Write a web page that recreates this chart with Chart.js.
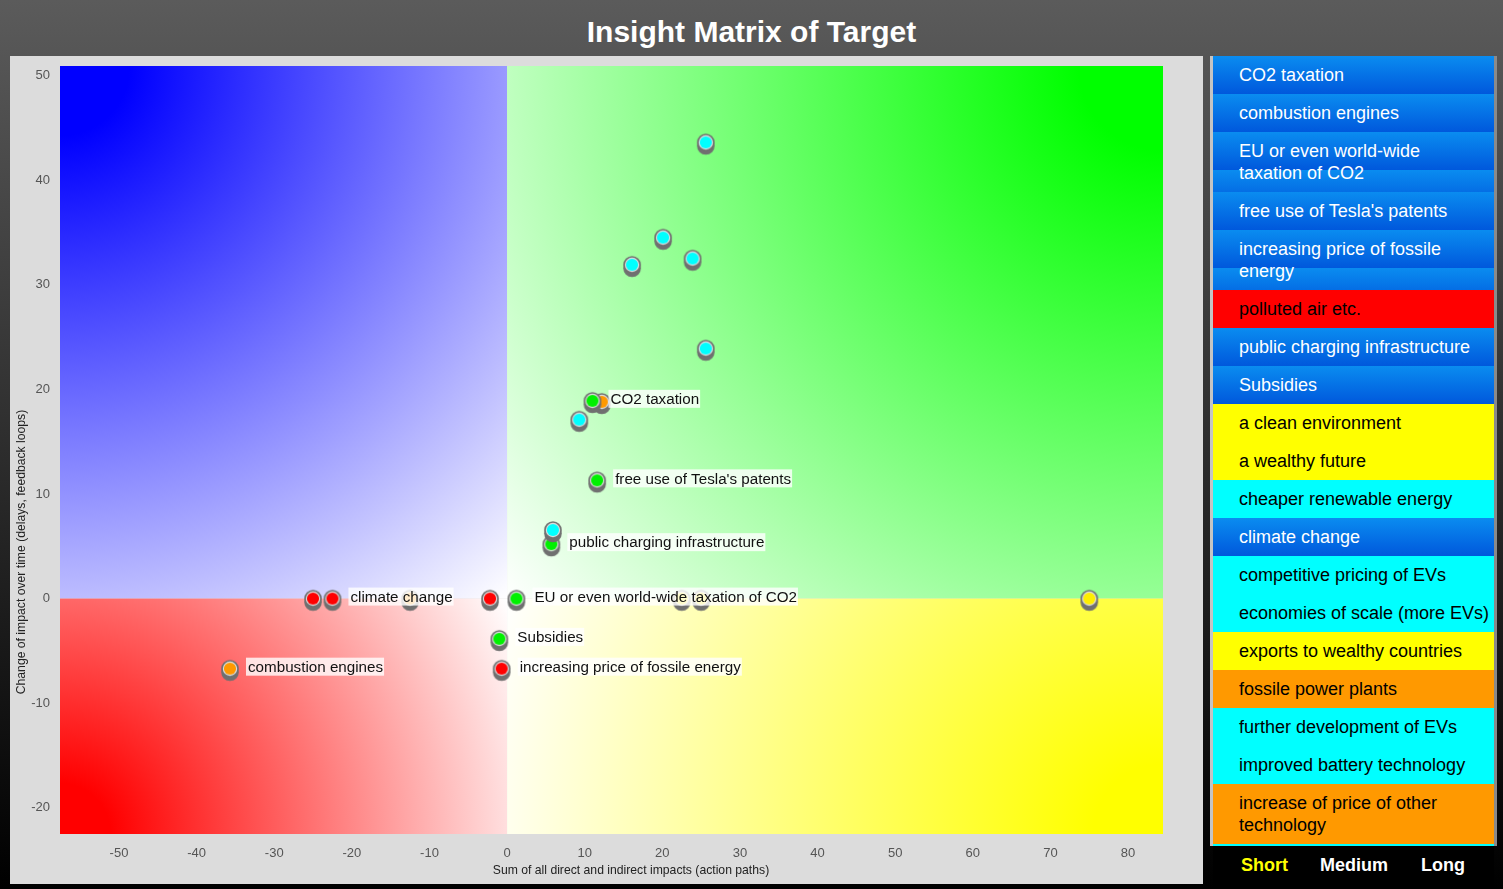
<!DOCTYPE html>
<html>
<head>
<meta charset="utf-8">
<script src="https://cdn.jsdelivr.net/npm/chart.js@4.4.0/dist/chart.umd.min.js"></script>
<style>
html, body { margin: 0; padding: 0; }
body {
  width: 1503px; height: 889px; overflow: hidden; position: relative;
  background: linear-gradient(#5b5b5b, #000);
  font-family: "Liberation Sans", Arial, sans-serif;
}
#title {
  position: absolute; left: 0; top: 13px; width: 1503px; text-align: center;
  color: #fff; font-weight: bold; font-size: 30px; line-height: 38px;
}
#panel { position: absolute; left: 10px; top: 56px; width: 1193px; height: 828px; background: #dcdcdc; }
#legend {
  position: absolute; left: 1213px; top: 56px; width: 281px; height: 790px;
  overflow: hidden; background: #00ffff; margin-left: -3px;
  border-left: 3px solid #c4c4c4; border-right: 3px solid #8a8a8a;
}
.item { box-sizing: border-box; padding: 8px 0 8px 26px; font-size: 18px; line-height: 22px; color: #000; white-space: pre; }
.item.blue { background: linear-gradient(#0a8cf0, #0058dc); background-size: 100% 38px; color: #fff; }
#foot { position: absolute; left: 1213px; top: 846px; width: 281px; height: 43px; background: #000; }
#foot span { position: absolute; top: 9px; font-size: 18px; font-weight: bold; color: #fff; }
</style>
</head>
<body>
<div id="title">Insight Matrix of Target</div>
<div id="panel"><canvas id="matrixChart" width="1193" height="828"></canvas></div>
<div id="legend"></div>
<div id="foot"></div>
<script>
// legend (factors and their colours)
const legendNames = ['CO2 taxation', 'combustion engines', 'EU or even world-wide\ntaxation of CO2',
  "free use of Tesla's patents", 'increasing price of fossile\nenergy', 'polluted air etc.',
  'public charging infrastructure', 'Subsidies', 'a clean environment', 'a wealthy future',
  'cheaper renewable energy', 'climate change', 'competitive pricing of EVs',
  'economies of scale (more EVs)', 'exports to wealthy countries', 'fossile power plants',
  'further development of EVs', 'improved battery technology', 'increase of price of other\ntechnology'];
const legendColors = ['blue', 'blue', 'blue', 'blue', 'blue', '#ff0000', 'blue', 'blue', '#ffff00', '#ffff00',
  '#00ffff', 'blue', '#00ffff', '#00ffff', '#ffff00', '#ff9900', '#00ffff', '#00ffff', '#ff9900'];
const horizonLabels = ['Short', 'Medium', 'Long'];

// markers
const markerX = [25.6, 20.1, 16.1, 23.9, 25.6, 12.2, 11.0, 9.3, 11.6, 5.7, 5.9, -2.2, 1.2,
  22.5, 25.0, -25.0, -22.5, -12.5, -1.0, -0.7, -35.7, 75.0];
const markerY = [43.6, 34.5, 31.9, 32.5, 23.9, 18.8, 18.9, 17.1, 11.3, 5.2, 6.55, 0, 0,
  0, 0, 0, 0, 0, -3.85, -6.7, -6.7, 0];
const markerColor = ['cyan', 'cyan', 'cyan', 'cyan', 'cyan', 'orange', 'green', 'cyan', 'green', 'green', 'cyan', 'red', 'green',
  'yellow', 'yellow', 'red', 'red', 'orange', 'green', 'red', 'orange', 'yellow'];
const markerLabel = ['', '', '', '', '', '', 'CO2 taxation', '', "free use of Tesla's patents",
  'public charging infrastructure', '', '', 'EU or even world-wide taxation of CO2', '', '', '',
  'climate change', '', 'Subsidies', 'increasing price of fossile energy', 'combustion engines', ''];

const xMin = -57.6, xMax = 84.5;
const yMin = -22.5, yMax = 50.9;

const fillColors = { cyan: '#00ffff', green: '#00f000', red: '#ff0000', orange: '#ff9900', yellow: '#ffee00' };
const FONT = '"Liberation Sans", Arial, sans-serif';

// legend html
const legendEl = document.getElementById('legend');
legendNames.forEach((name, i) => {
  const d = document.createElement('div');
  d.className = 'item' + (legendColors[i] === 'blue' ? ' blue' : '');
  if (legendColors[i] !== 'blue') d.style.background = legendColors[i];
  d.textContent = name;
  legendEl.appendChild(d);
});
const footEl = document.getElementById('foot');
const footX = [28, 107, 208];
horizonLabels.forEach((t, i) => {
  const s = document.createElement('span');
  s.textContent = t;
  s.style.left = footX[i] + 'px';
  if (i === 0) s.style.color = '#ffff00';
  footEl.appendChild(s);
});

// marker images: grey "button" with a coloured top
function markerImage(fill) {
  const c = document.createElement('canvas');
  c.width = 22; c.height = 30;
  const g = c.getContext('2d');
  g.fillStyle = '#707070';
  g.beginPath(); g.arc(11, 18.5, 8.8, 0, Math.PI * 2); g.fill();
  g.beginPath(); g.arc(11, 15, 8.8, 0, Math.PI * 2); g.fill();
  g.fillStyle = 'rgba(230,230,230,0.95)';
  g.beginPath(); g.arc(11, 15, 7.2, 0, Math.PI * 2); g.fill();
  g.fillStyle = fill;
  g.beginPath(); g.arc(11, 15, 6.1, 0, Math.PI * 2); g.fill();
  return c;
}
const markerImages = {};
Object.keys(fillColors).forEach(k => { markerImages[k] = markerImage(fillColors[k]); });

// quadrant gradients behind the points (radial from each outer corner)
const quadrantBackground = {
  id: 'quadrantBackground',
  beforeDatasetsDraw(chart) {
    const { ctx, chartArea: a, scales } = chart;
    const ox = scales.x.getPixelForValue(0), oy = scales.y.getPixelForValue(0);
    const quads = [
      [a.left, a.top, ox, oy, a.left, a.top, '#0000ff'],
      [ox, a.top, a.right, oy, a.right, a.top, '#00ff00'],
      [a.left, oy, ox, a.bottom, a.left, a.bottom, '#ff0000'],
      [ox, oy, a.right, a.bottom, a.right, a.bottom, '#ffff00']
    ];
    ctx.save();
    quads.forEach(([x1, y1, x2, y2, cx, cy, c0]) => {
      const r = Math.hypot(ox - cx, oy - cy);
      const grad = ctx.createRadialGradient(cx, cy, 0, cx, cy, r);
      grad.addColorStop(0, c0);
      grad.addColorStop(0.1, c0);
      grad.addColorStop(1, '#ffffff');
      ctx.fillStyle = grad;
      ctx.fillRect(x1, y1, x2 - x1, y2 - y1);
    });
    ctx.restore();
  }
};

// text labels next to some markers
const pointLabels = {
  id: 'pointLabels',
  afterDatasetsDraw(chart) {
    const { ctx } = chart;
    const pts = chart.getDatasetMeta(0).data;
    ctx.save();
    ctx.font = '15.2px ' + FONT;
    ctx.textBaseline = 'middle';
    markerLabel.forEach((txt, i) => {
      if (!txt) return;
      const tx = pts[i].x + 18, ty = pts[i].y - 2;
      const w = ctx.measureText(txt).width;
      ctx.fillStyle = 'rgba(255,255,255,0.8)';
      ctx.fillRect(tx - 2, ty - 9, w + 3, 18);
      ctx.fillStyle = '#111';
      ctx.fillText(txt, tx, ty + 1);
    });
    ctx.restore();
  }
};

// axis titles
const axisTitles = {
  id: 'axisTitles',
  afterDraw(chart) {
    const { ctx } = chart;
    ctx.save();
    ctx.font = '12.2px ' + FONT;
    ctx.fillStyle = '#222';
    ctx.textAlign = 'center';
    ctx.textBaseline = 'middle';
    ctx.fillText('Sum of all direct and indirect impacts (action paths)', 621, 815);
    ctx.translate(12, 496);
    ctx.rotate(-Math.PI / 2);
    ctx.fillText('Change of impact over time (delays, feedback loops)', 0, 0);
    ctx.restore();
  }
};

const matrixCtx = document.getElementById('matrixChart').getContext('2d');
new Chart(matrixCtx, {
  type: 'scatter',
  data: {
    datasets: [{
      data: markerX.map((x, i) => ({ x: x, y: markerY[i] })),
      pointStyle: markerColor.map(c => markerImages[c]),
      pointRadius: 9
    }]
  },
  options: {
    responsive: false,
    animation: false,
    devicePixelRatio: 1,
    events: [],
    layout: { padding: { top: 9, right: 40, left: 0, bottom: 0 } },
    plugins: { legend: { display: false }, tooltip: { enabled: false } },
    scales: {
      x: {
        type: 'linear', min: xMin, max: xMax,
        grid: { display: false, drawTicks: false },
        border: { display: false },
        ticks: { stepSize: 10, includeBounds: false, padding: 12, color: '#555', font: { size: 13, family: FONT } },
        afterFit: s => { s.height = 50; s.paddingLeft = 0; s.paddingRight = 0; }
      },
      y: {
        min: yMin, max: yMax,
        grid: { display: false, drawTicks: false },
        border: { display: false },
        ticks: { stepSize: 10, includeBounds: false, padding: 10, color: '#555', font: { size: 13, family: FONT } },
        afterFit: s => { s.width = 50; s.paddingTop = 0; s.paddingBottom = 0; }
      }
    }
  },
  plugins: [quadrantBackground, pointLabels, axisTitles]
});
</script>
</body>
</html>
